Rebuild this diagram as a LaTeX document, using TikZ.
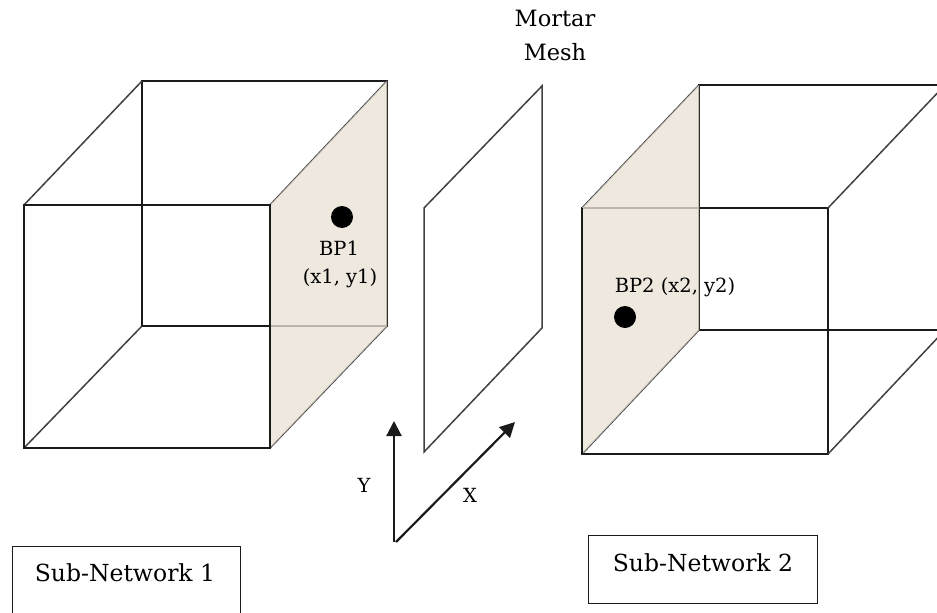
\documentclass[tikz,border=0pt]{standalone}
\usepackage{fontspec}
\setmainfont{DejaVu Serif}
\usetikzlibrary{arrows.meta}
\definecolor{facefill}{HTML}{E9E1D5}
\definecolor{edgeink}{HTML}{1A1A1A}
\definecolor{softink}{HTML}{404040}
\tikzset{
  edge/.style={draw=edgeink,line width=1.6pt,line join=miter},
  diag/.style={draw=softink,line width=1.5pt},
  axis/.style={draw=edgeink,line width=2.2pt,-{Triangle[length=15pt,width=15pt]}},
  face/.style={fill=facefill,draw=none,fill opacity=.78},
  dot/.style={circle,fill=black,draw=none,minimum size=22pt,inner sep=0pt},
  lab/.style={inner sep=0pt,text=black,font=\fontsize{19.5}{21}\selectfont},
  toplab/.style={inner sep=0pt,text=black,font=\fontsize{22.5}{24}\selectfont},
  biglab/.style={inner sep=0pt,text=black,font=\fontsize{23.5}{26}\selectfont},
  netbox/.style={draw=edgeink,line width=1.6pt,fill=white,inner sep=0pt,anchor=north west},
}
\begin{document}
\begin{tikzpicture}[x=1pt,y=-1pt]
\useasboundingbox (0,0) rectangle (937,613);
% cube 1 corners
\coordinate (fa) at (24,205); \coordinate (fb) at (270,205);
\coordinate (fc) at (270,448); \coordinate (fd) at (24,448);
\coordinate (ba) at (142,81); \coordinate (bb) at (387,81);
\coordinate (bc) at (387,326); \coordinate (bd) at (142,326);
\draw[edge] (ba) -- (bb) -- (bc) -- (bd) -- cycle;
\draw[diag] (fa) -- (ba) (fb) -- (bb) (fc) -- (bc) (fd) -- (bd);
\fill[face] (fb) -- (bb) -- (bc) -- (fc) -- cycle;
\draw[edge] (fa) -- (fb) -- (fc) -- (fd) -- cycle;
% mortar mesh
\coordinate (ma) at (424,208); \coordinate (mb) at (542,86);
\coordinate (mc) at (542,328); \coordinate (md) at (424,452);
\draw[diag] (ma) -- (mb) -- (mc) -- (md) -- cycle;
% cube 2 corners
\begin{scope}
\clip (0,0) rectangle (937,613);
\coordinate (ga) at (582,208); \coordinate (gb) at (828,208);
\coordinate (gc) at (828,454); \coordinate (gd) at (582,454);
\coordinate (ha) at (699,85); \coordinate (hb) at (945,85);
\coordinate (hc) at (945,330); \coordinate (hd) at (699,330);
\draw[edge] (ga) -- (gb) -- (gc) -- (gd) -- cycle;
\draw[edge] (ha) -- (hb) -- (hc) -- (hd) -- cycle;
\draw[diag] (ga) -- (ha) (gb) -- (hb) (gc) -- (hc) (gd) -- (hd);
\fill[face] (ga) -- (ha) -- (hd) -- (gd) -- cycle;
\draw[edge] (ga) -- (gd);
\end{scope}
% axes
\coordinate (origin) at (394,542);
\coordinate (ytip) at (394,421);
\coordinate (origin2) at (396,542);
\coordinate (xtip) at (515,422);
\draw[axis] (origin) -- (ytip);
\draw[axis] (origin2) -- (xtip);
% dots
\node[dot] (bp1dot) at (342,217) {};
\node[dot] (bp2dot) at (625,317) {};
% labels
\node[lab] (bp1) at (339,248) {BP1};
\node[lab] (xy1) at (340,278) {(x1, y1)};
\node[lab] (bp2) at (675,287) {BP2 (x2, y2)};
\node[lab] (ylab) at (364,485) {Y};
\node[lab] (xlab) at (470,495) {X};
\node[toplab] (mortar) at (555,18) {Mortar};
\node[toplab] (mesh) at (555,52) {Mesh};
% boxes
\node[netbox,minimum width=228pt,minimum height=70pt] (net1) at (11.5,545.5) {};
\node[biglab] (net1t) at (125,573) {Sub-Network 1};
\node[netbox,minimum width=229pt,minimum height=68pt] (net2) at (587.5,534.5) {};
\node[biglab] (net2t) at (703,563) {Sub-Network 2};
\end{tikzpicture}
\end{document}
